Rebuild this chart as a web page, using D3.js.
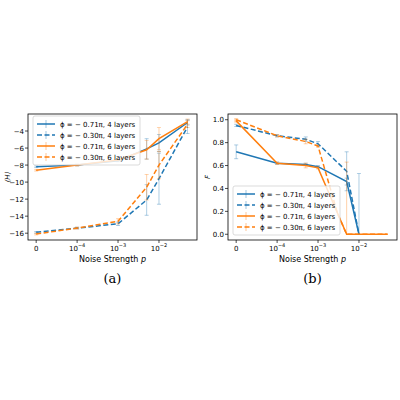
<!DOCTYPE html><html><head><script src="https://cdn.jsdelivr.net/npm/d3@7"></script>
<style>body{margin:0;background:#fff}text{font-family:"DejaVu Sans",sans-serif}</style></head><body>
<svg id="c" width="400" height="400"></svg>
<script>
const labels=["ϕ = − 0.71π, 4 layers","ϕ = − 0.30π, 4 layers","ϕ = − 0.71π, 6 layers","ϕ = − 0.30π, 6 layers"];
const colors=["#1f77b4","#1f77b4","#ff7f0e","#ff7f0e"];
const dashed=[false,true,false,true];
const xTicks=[0,1e-4,1e-3,1e-2];
const xTickLabels=["0","10<tspan dy='-4' font-size='5'>−4</tspan>","10<tspan dy='-4' font-size='5'>−3</tspan>","10<tspan dy='-4' font-size='5'>−2</tspan>"];
const aX=[0,1e-4,1e-3,5e-3,1e-2,5e-2];
const aS0=[-8.2,-8.0,-7.5,-6.1,-5.4,-3.0], aE0=[0.1,0.1,0.1,1.2,1.0,0.3];
const aS1=[-15.9,-15.4,-14.9,-12.1,-9.6,-3.5], aE1=[0.1,0.1,0.2,1.8,3.0,0.8];
const aS2=[-8.6,-8.0,-7.4,-6.2,-4.9,-2.9], aE2=[0.1,0.1,0.1,1.1,1.3,0.3];
const aS3=[-16.1,-15.4,-14.6,-10.6,-8.0,-3.2], aE3=[0.1,0.1,0.3,1.5,1.6,0.4];
const bX0=[0,1e-4,5e-4,1e-3,5e-3,1e-2];
const bS0=[0.72,0.62,0.61,0.59,0.46,0.0], bE0=[0.06,0.01,0.01,0.01,0.03,0];
const bS1=[0.95,0.86,0.83,0.79,0.55,0.0], bE1=[0.01,0.01,0.02,0.02,0.17,0];
const bX2=[0,1e-4,5e-4,1e-3,5e-3,1e-2,5e-2];
const bS2=[0.99,0.62,0.60,0.58,0.0,0.0,0.0], bE2=[0.01,0.01,0.02,0.01,0,0,0];
const bX3=[0,1e-4,5e-4,1e-3,3e-3,5e-3,1e-2,5e-2];
const bS3=[1.0,0.86,0.81,0.77,0.18,0.0,0.0,0.0], bE3=[0.01,0.01,0.02,0.01,0,0,0,0];
const extraBars=[{p:1e-2,lo:0,hi:0.53,c:0},{p:5e-3,lo:0,hi:0.63,c:2}];

const svg=d3.select("#c");
const f=p=>p===0?0:Math.log10(p)+5;
function panel(x0,x1,yDom,yTicks,yFmt,series,ylab,cap,legY,extra){
  const y0=114,y1=240;
  const xs=d3.scaleLinear().domain([-0.2,f(5e-2)+0.23]).range([x0,x1]);
  const ys=d3.scaleLinear().domain(yDom).range([y1,y0]);
  const g=svg.append("g");
  const X=p=>xs(f(p));
  series.forEach((s,i)=>{
    const line=d3.line().x(d=>X(d[0])).y(d=>ys(d[1]));
    const pts=s.x.map((p,j)=>[p,s.v[j],s.e[j]]);
    g.append("path").attr("d",line(pts)).attr("fill","none").attr("stroke",colors[i]).attr("stroke-width",1.5)
      .attr("stroke-dasharray",dashed[i]?"5,2.5":null);
    pts.forEach(d=>{ if(d[2]>0){
      g.append("line").attr("x1",X(d[0])).attr("x2",X(d[0])).attr("y1",ys(d[1]-d[2])).attr("y2",ys(d[1]+d[2])).attr("stroke",colors[i]).attr("stroke-width",0.7).attr("opacity",0.5);
      [d[1]-d[2],d[1]+d[2]].forEach(v=>g.append("line").attr("x1",X(d[0])-2).attr("x2",X(d[0])+2).attr("y1",ys(v)).attr("y2",ys(v)).attr("stroke",colors[i]).attr("stroke-width",0.7).attr("opacity",0.5));}});
  });
  (extra||[]).forEach(b=>{g.append("line").attr("x1",X(b.p)).attr("x2",X(b.p)).attr("y1",ys(b.lo)).attr("y2",ys(b.hi)).attr("stroke",colors[b.c]).attr("stroke-width",0.7).attr("opacity",0.5);
    g.append("line").attr("x1",X(b.p)-2).attr("x2",X(b.p)+2).attr("y1",ys(b.hi)).attr("y2",ys(b.hi)).attr("stroke",colors[b.c]).attr("stroke-width",0.7).attr("opacity",0.5);});
  g.append("rect").attr("x",x0).attr("y",y0).attr("width",x1-x0).attr("height",y1-y0).attr("fill","none").attr("stroke","#000").attr("stroke-width",0.8);
  xTicks.forEach((t,i)=>{g.append("line").attr("x1",X(t)).attr("x2",X(t)).attr("y1",y1).attr("y2",y1+3).attr("stroke","#000").attr("stroke-width",0.7);
    g.append("text").attr("x",X(t)).attr("y",y1+11).attr("text-anchor","middle").attr("font-size",7).html(xTickLabels[i]);});
  yTicks.forEach(t=>{g.append("line").attr("x1",x0-3).attr("x2",x0).attr("y1",ys(t)).attr("y2",ys(t)).attr("stroke","#000").attr("stroke-width",0.7);
    g.append("text").attr("x",x0-4).attr("y",ys(t)+2.5).attr("text-anchor","end").attr("font-size",7).text(yFmt(t));});
  g.append("text").attr("x",(x0+x1)/2).attr("y",y1+22).attr("text-anchor","middle").attr("font-size",8).html("Noise Strength <tspan font-style='italic'>p</tspan>");
  g.append("text").attr("transform",`translate(${x0-18},${(y0+y1)/2}) rotate(-90)`).attr("text-anchor","middle").attr("font-size",7).attr("font-style","italic").text(ylab);
  g.append("text").attr("x",(x0+x1)/2).attr("y",283).attr("text-anchor","middle").attr("font-size",13).style("font-family","'DejaVu Serif',serif").text(cap);
  const lx=x0+5, lw=107;
  g.append("rect").attr("x",lx).attr("y",legY).attr("width",lw).attr("height",49).attr("fill","#fff").attr("fill-opacity",0.8).attr("stroke","#ccc").attr("stroke-width",0.7).attr("rx",2);
  labels.forEach((l,i)=>{const yy=legY+8+i*11;
    g.append("line").attr("x1",lx+4).attr("x2",lx+22).attr("y1",yy).attr("y2",yy).attr("stroke",colors[i]).attr("stroke-width",1.5).attr("stroke-dasharray",dashed[i]?"5,2.5":null);
    g.append("line").attr("x1",lx+13).attr("x2",lx+13).attr("y1",yy-4).attr("y2",yy+4).attr("stroke",colors[i]).attr("stroke-width",0.7).attr("opacity",0.6);
    g.append("text").attr("x",lx+27).attr("y",yy+2.5).attr("font-size",7).text(l);});
}
panel(28,197,[-16.8,-2.0],[-16,-14,-12,-10,-8,-6,-4],d=>d3.format("d")(d).replace("-","−"),
 [{x:aX,v:aS0,e:aE0},{x:aX,v:aS1,e:aE1},{x:aX,v:aS2,e:aE2},{x:aX,v:aS3,e:aE3}],"⟨H⟩","(a)",116,[]);
panel(228,397,[-0.05,1.05],[0,0.2,0.4,0.6,0.8,1.0],d3.format(".1f"),
 [{x:bX0,v:bS0,e:bE0},{x:bX0,v:bS1,e:bE1},{x:bX2,v:bS2,e:bE2},{x:bX3,v:bS3,e:bE3}],"F","(b)",186,extraBars);
</script></body></html>
